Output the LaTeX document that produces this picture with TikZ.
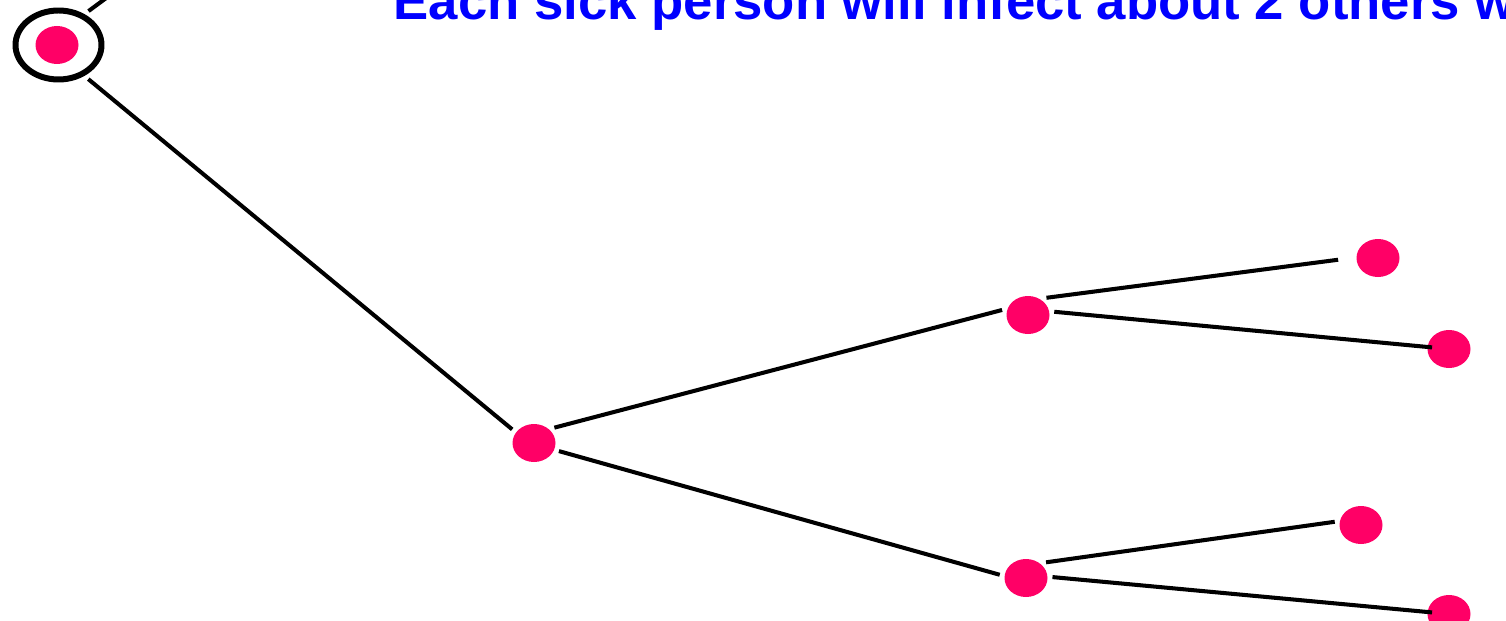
\documentclass[tikz,border=0pt]{standalone}
\usepackage{fontspec}
\setmainfont{Liberation Sans}
\usepackage{xcolor}
\usepackage{tikz}
\usetikzlibrary{shapes.geometric}
\definecolor{sickpink}{RGB}{255,0,102}

\begin{document}
\begin{tikzpicture}[
  sick/.style={
    ellipse, fill=sickpink, minimum width=0.43cm, minimum height=0.38cm,
    inner sep=0pt, outer sep=0.05cm
  },
  ring/.style={
    ellipse, draw, line width=1.7pt, minimum width=0.86cm,
    minimum height=0.69cm, inner sep=0pt
  },
  spread/.style={draw, line width=1.15pt},
  headline/.style={
    text=blue, font=\fontsize{15}{18}\selectfont\bfseries,
    inner sep=0pt, anchor=base west
  }
]
\useasboundingbox (0,0) rectangle (15.06,6.2);
\clip (0,0) rectangle (15.06,6.2);

\node[headline] (head) at (3.93,6.0) {Each sick person will infect about 2 others w};

\node[ring] (ring) at (0.585,5.75) {};
\node[sick] (p) at (0.57,5.75) {};
\coordinate (up) at (2.31,7.14);

\node[sick] (pa) at (5.34,1.77) {};
\node[sick] (paa) at (10.28,3.05) {};
\node[sick] (pab) at (10.26,0.42) {};
\node[sick] (paaa) at (13.78,3.62) {};
\node[sick] (paab) at (14.49,2.71) {};
\node[sick] (paba) at (13.61,0.95) {};
\node[sick] (pabb) at (14.49,0.06) {};

\draw[spread, shorten <=0.05cm] (ring.50) -- (up);
\draw[spread, shorten <=0.05cm] (ring.-50) -- (pa.148);
\draw[spread] (pa.37) -- (paa.169);
\draw[spread] (pa.-18) -- (pab.173);
\draw[spread, shorten >=0.135cm] (paa.43) -- (paaa.180);
\draw[spread, shorten >=0.17cm] (paa.7) -- (paab.center);
\draw[spread] (pab.38) -- (paba.173);
\draw[spread, shorten >=0.17cm] (pab.2) -- (pabb.center);

\end{tikzpicture}
\end{document}
